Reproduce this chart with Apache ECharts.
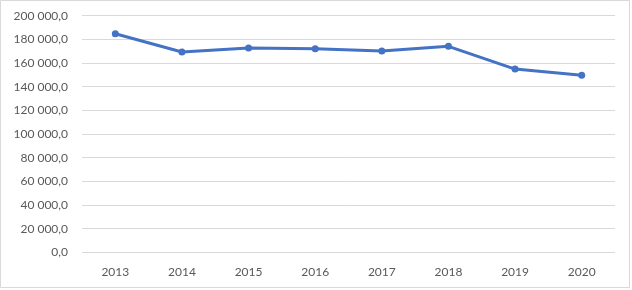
<!DOCTYPE html>
<html><head><meta charset="utf-8">
<script src="https://cdn.jsdelivr.net/npm/echarts@6/dist/echarts.min.js"></script>
<style>html,body{margin:0;padding:0;background:#fff}#c{width:632px;height:290px}</style>
</head><body><div id="c"></div>
<script>
var categories = ['2013','2014','2015','2016','2017','2018','2019','2020'];
var values = [184800, 169300, 172700, 172100, 170200, 174100, 154900, 149600];
var yTicks = [0, 20000, 40000, 60000, 80000, 100000, 120000, 140000, 160000, 180000, 200000];

function fmt(v){
  var s = Math.round(v).toString().replace(/\B(?=(\d{3})+(?!\d))/g, ' ');
  return s + ',0';
}
var chart = echarts.init(document.getElementById('c'), null, {renderer:'canvas'});
chart.setOption({
  animation:false,
  backgroundColor:'#fff',
  textStyle:{fontFamily:'Lato'},
  graphic:[{type:'rect',shape:{x:0.5,y:0.5,width:629,height:287},style:{fill:'none',stroke:'#d9d9d9',lineWidth:1},z:-1}],
  grid:{left:82,right:17,top:15.7,bottom:37.7},
  xAxis:{type:'category',data:categories,boundaryGap:true,
    axisLine:{show:false},axisTick:{show:false},
    axisLabel:{color:'#595959',fontSize:12,margin:14,fontFamily:'Lato'}},
  yAxis:{type:'value',min:yTicks[0],max:yTicks[yTicks.length-1],interval:yTicks[1]-yTicks[0],
    axisLine:{show:false},axisTick:{show:false},
    splitLine:{lineStyle:{color:'#d9d9d9',width:1}},
    axisLabel:{color:'#595959',fontSize:12,margin:14,fontFamily:'Lato',formatter:fmt}},
  series:[{type:'line',data:values,symbol:'circle',symbolSize:7,
    lineStyle:{color:'#4472c4',width:3},itemStyle:{color:'#4472c4'}}]
});
</script></body></html>
